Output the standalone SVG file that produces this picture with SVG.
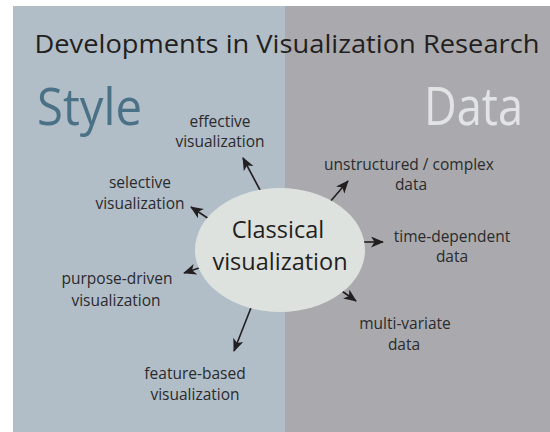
<svg xmlns="http://www.w3.org/2000/svg" width="550" height="432" viewBox="0 0 550 432">
<style>
.lbl{font-family:"Open Sans","Noto Sans",sans-serif;font-size:15.5px;fill:#2b2a2c;text-anchor:middle}
.ctr{font-family:"Open Sans","Noto Sans",sans-serif;font-size:23.5px;fill:#231f20;text-anchor:middle}
.conn line{stroke:#231f20;stroke-width:1.6;marker-end:url(#ah)}
</style>
<defs>
<marker id="ah" markerUnits="userSpaceOnUse" markerWidth="14" markerHeight="12" refX="12" refY="5.5" orient="auto" viewBox="0 0 14 12">
<path d="M0,0 L13,5.5 L0,11 L3.5,5.5 Z" fill="#231f20"/>
</marker>
</defs>
<rect x="0" y="0" width="550" height="432" fill="#ffffff"/>
<rect id="style-panel" x="13" y="6" width="272" height="426" fill="#b1bec8"/>
<rect id="data-panel" x="285" y="6" width="265" height="426" fill="#aaaaae"/>
<text x="287" y="53" font-family="'Open Sans','Noto Sans',sans-serif" font-size="25.5" fill="#231f20" text-anchor="middle" textLength="505" lengthAdjust="spacingAndGlyphs">Developments in Visualization Research</text>
<text x="37" y="125" font-family="'Open Sans','Noto Sans',sans-serif" font-size="52" fill="#4a7186" textLength="105" lengthAdjust="spacingAndGlyphs">Style</text>
<text x="424" y="125" font-family="'Open Sans','Noto Sans',sans-serif" font-size="53" fill="#e1e3e5" textLength="99" lengthAdjust="spacingAndGlyphs">Data</text>
<g class="conn" id="connectors">
<line x1="268" y1="205" x2="243" y2="158"/>
<line x1="329" y1="203" x2="348" y2="181"/>
<line x1="215" y1="223" x2="191" y2="207"/>
<line x1="202" y1="267" x2="184" y2="273"/>
<line x1="354" y1="242" x2="383" y2="242"/>
<line x1="329" y1="282" x2="356" y2="301"/>
<line x1="256" y1="295" x2="234" y2="351"/>
</g>
<g id="classical">
<ellipse cx="280" cy="250" rx="85" ry="62" fill="#dde2df"/>
<text class="ctr" x="278" y="238">Classical</text>
<text class="ctr" x="280" y="270">visualization</text>
</g>
<g id="effective"><text class="lbl" x="220" y="127">effective</text><text class="lbl" x="220" y="147">visualization</text></g>
<g id="selective"><text class="lbl" x="140" y="188">selective</text><text class="lbl" x="140" y="209">visualization</text></g>
<g id="purpose"><text class="lbl" x="117" y="284">purpose-driven</text><text class="lbl" x="116" y="306">visualization</text></g>
<g id="feature"><text class="lbl" x="195" y="379">feature-based</text><text class="lbl" x="195" y="400">visualization</text></g>
<g id="unstructured"><text class="lbl" x="409" y="170">unstructured / complex</text><text class="lbl" x="411" y="190">data</text></g>
<g id="time"><text class="lbl" x="452" y="242">time-dependent</text><text class="lbl" x="452" y="262">data</text></g>
<g id="multi"><text class="lbl" x="405" y="329">multi-variate</text><text class="lbl" x="404" y="350">data</text></g>
</svg>
